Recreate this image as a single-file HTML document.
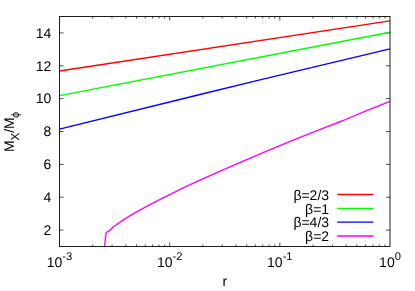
<!DOCTYPE html>
<html><head><meta charset="utf-8"><title>plot</title>
<style>html,body{margin:0;padding:0;background:#fff;}svg{display:block;will-change:transform;}text{text-rendering:geometricPrecision;font-family:"Liberation Sans",sans-serif;fill:#000;}</style></head><body>
<svg width="415" height="291" viewBox="0 0 415 291">
<rect x="0" y="0" width="415" height="291" fill="#fff"/>
<path d="M59.5 230.07h4M390.0 230.07h-4M59.5 197.21h4M390.0 197.21h-4M59.5 164.36h4M390.0 164.36h-4M59.5 131.50h4M390.0 131.50h-4M59.5 98.64h4M390.0 98.64h-4M59.5 65.79h4M390.0 65.79h-4M59.5 32.93h4M390.0 32.93h-4M92.66 246.5v-2M92.66 16.5v2M112.06 246.5v-2M112.06 16.5v2M125.83 246.5v-2M125.83 16.5v2M136.50 246.5v-2M136.50 16.5v2M145.23 246.5v-2M145.23 16.5v2M152.60 246.5v-2M152.60 16.5v2M158.99 246.5v-2M158.99 16.5v2M164.63 246.5v-2M164.63 16.5v2M169.67 246.5v-4M169.67 16.5v4M202.83 246.5v-2M202.83 16.5v2M222.23 246.5v-2M222.23 16.5v2M235.99 246.5v-2M235.99 16.5v2M246.67 246.5v-2M246.67 16.5v2M255.39 246.5v-2M255.39 16.5v2M262.77 246.5v-2M262.77 16.5v2M269.16 246.5v-2M269.16 16.5v2M274.79 246.5v-2M274.79 16.5v2M279.83 246.5v-4M279.83 16.5v4M313.00 246.5v-2M313.00 16.5v2M332.40 246.5v-2M332.40 16.5v2M346.16 246.5v-2M346.16 16.5v2M356.84 246.5v-2M356.84 16.5v2M365.56 246.5v-2M365.56 16.5v2M372.93 246.5v-2M372.93 16.5v2M379.32 246.5v-2M379.32 16.5v2M384.96 246.5v-2M384.96 16.5v2" stroke="#000" stroke-width="0.7" fill="none"/>
<path d="M59.5 71.0L390.0 20.9" stroke="#ff0000" stroke-width="1.35" fill="none"/>
<path d="M59.5 95.65L390.0 32.25" stroke="#00ff00" stroke-width="1.35" fill="none"/>
<path d="M59.5 129.15L200 94.5L260 79.85L390.0 48.8" stroke="#0000ff" stroke-width="1.35" fill="none"/>
<path d="M104.5 246.5L106.2 232.6L109.6 230.7L113.2 227.0L124.1 219.4L136.1 212.2L148.2 205.7L160.2 199.4L172.3 193.4L184.3 187.3L200 180.1L219.1 171.6L243.2 161.1L267.3 150.85L295 139.3L319.1 129.9L343.2 120.5L367.3 110.4L390 101.3" stroke="#ff00ff" stroke-width="1.35" fill="none" stroke-linejoin="round"/>
<rect x="59.5" y="16.5" width="330.5" height="230.0" fill="none" stroke="#000" stroke-width="0.88"/>
<text x="51.4" y="234.87" font-size="14" text-anchor="end">2</text>
<text x="51.4" y="202.01" font-size="14" text-anchor="end">4</text>
<text x="51.4" y="169.16" font-size="14" text-anchor="end">6</text>
<text x="51.4" y="136.30" font-size="14" text-anchor="end">8</text>
<text x="51.4" y="103.44" font-size="14" text-anchor="end">10</text>
<text x="51.4" y="70.59" font-size="14" text-anchor="end">12</text>
<text x="51.4" y="37.73" font-size="14" text-anchor="end">14</text>
<text x="46.74" y="266.6" font-size="14">10<tspan font-size="11.2" dy="-6.6">-3</tspan></text>
<text x="156.90" y="266.6" font-size="14">10<tspan font-size="11.2" dy="-6.6">-2</tspan></text>
<text x="267.07" y="266.6" font-size="14">10<tspan font-size="11.2" dy="-6.6">-1</tspan></text>
<text x="379.10" y="266.6" font-size="14">10<tspan font-size="11.2" dy="-6.6">0</tspan></text>
<text x="224.75" y="285.6" font-size="14" text-anchor="middle">r</text>
<g transform="translate(14.45,131.8) rotate(-90)"><text x="0" y="0" font-size="14" text-anchor="middle">M<tspan font-size="11.6" dy="4.2" dx="-0.3">X</tspan><tspan dy="-4.2">/M</tspan><tspan font-size="11.2" dy="4.2" dx="-0.6">&#x3d5;</tspan></text></g>
<text x="329.1" y="199.75" font-size="14" text-anchor="end">β=2/3</text>
<path d="M337.3 194.45H373.5" stroke="#ff0000" stroke-width="1.35" fill="none"/>
<text x="329.1" y="213.60" font-size="14" text-anchor="end">β=1</text>
<path d="M337.3 208.30H373.5" stroke="#00ff00" stroke-width="1.35" fill="none"/>
<text x="329.1" y="227.45" font-size="14" text-anchor="end">β=4/3</text>
<path d="M337.3 222.15H373.5" stroke="#0000ff" stroke-width="1.35" fill="none"/>
<text x="329.1" y="241.30" font-size="14" text-anchor="end">β=2</text>
<path d="M337.3 236.00H373.5" stroke="#ff00ff" stroke-width="1.35" fill="none"/>
</svg></body></html>
